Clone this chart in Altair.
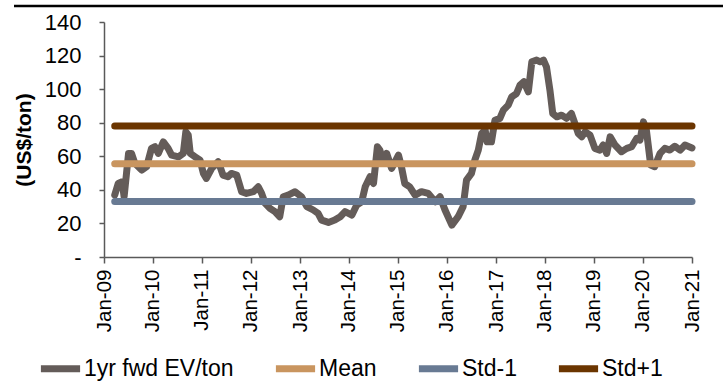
import altair as alt
import pandas as pd

# 1-year forward EV/ton history (decimal year, US$/ton)
years = [
    2009.22, 2009.29, 2009.37, 2009.41, 2009.50, 2009.56, 2009.63, 2009.77, 2009.87, 2009.97,
    2010.04, 2010.11, 2010.21, 2010.31, 2010.38, 2010.52, 2010.62, 2010.67, 2010.72, 2010.76,
    2010.86, 2010.96, 2011.03, 2011.09, 2011.20, 2011.33, 2011.37, 2011.43, 2011.53, 2011.60,
    2011.71, 2011.81, 2011.91, 2012.05, 2012.15, 2012.22, 2012.29, 2012.39, 2012.49, 2012.59,
    2012.66, 2012.76, 2012.90, 2013.03, 2013.14, 2013.27, 2013.37, 2013.44, 2013.58, 2013.71,
    2013.82, 2013.92, 2014.06, 2014.16, 2014.26, 2014.33, 2014.43, 2014.50, 2014.58, 2014.63,
    2014.70, 2014.77, 2014.87, 2015.01, 2015.07, 2015.14, 2015.24, 2015.35, 2015.48, 2015.62,
    2015.76, 2015.86, 2015.96, 2016.10, 2016.23, 2016.33, 2016.40, 2016.50, 2016.57, 2016.64,
    2016.71, 2016.78, 2016.82, 2016.91, 2016.98, 2017.08, 2017.15, 2017.25, 2017.32, 2017.42,
    2017.49, 2017.57, 2017.66, 2017.73, 2017.83, 2017.90, 2017.97, 2018.03, 2018.10, 2018.16,
    2018.24, 2018.34, 2018.44, 2018.54, 2018.61, 2018.68, 2018.75, 2018.82, 2018.92, 2019.02,
    2019.12, 2019.19, 2019.26, 2019.33, 2019.43, 2019.56, 2019.67, 2019.77, 2019.87, 2019.94,
    2020.01, 2020.07, 2020.16, 2020.24, 2020.35, 2020.45, 2020.55, 2020.65, 2020.76, 2020.86,
    2021.00,
]
ev_ton = [
    36.9, 43.8, 44.8, 35.9, 61.7, 61.7, 55.8, 51.8, 53.8, 64.7,
    65.7, 61.7, 68.6, 64.7, 60.7, 59.7, 61.7, 74.6, 72.6, 61.7,
    59.7, 57.7, 49.8, 46.8, 52.8, 56.7, 53.8, 48.8, 47.8, 49.8,
    48.8, 38.9, 37.9, 38.9, 41.8, 37.9, 32.0, 29.0, 27.0, 24.0,
    35.9, 36.9, 38.9, 35.9, 30.0, 28.0, 26.0, 22.0, 20.6, 22.0,
    24.0, 27.0, 25.0, 31.0, 32.9, 41.8, 47.8, 43.8, 65.7, 63.7,
    56.7, 61.7, 52.8, 60.7, 53.8, 43.8, 41.8, 36.9, 38.9, 37.9,
    32.9, 35.9, 28.0, 19.0, 24.0, 30.0, 45.8, 49.8, 57.7, 63.7,
    73.6, 75.6, 68.6, 68.6, 81.5, 82.6, 87.5, 90.5, 95.4, 97.4,
    102.4, 104.4, 98.4, 116.3, 117.3, 116.3, 117.3, 113.3, 99.4, 85.5,
    83.5, 84.5, 82.6, 85.5, 79.6, 73.6, 71.6, 74.6, 72.6, 64.7,
    63.7, 66.7, 61.7, 71.6, 66.7, 62.7, 64.7, 65.7, 70.6, 69.6,
    80.5, 75.6, 54.8, 53.8, 61.7, 64.7, 63.7, 66.0, 63.7, 66.7,
    65.0,
]

# Reference bands: mean and +/- one standard deviation
band_names = ["Mean", "Std-1", "Std+1"]
band_values = [55.5, 33.0, 78.0]
band_span = [2009.22, 2021.00]

series_names = ["1yr fwd EV/ton", "Mean", "Std-1", "Std+1"]
series_colors = ["#645c59", "#c9955f", "#687a93", "#6b3500"]

y_ticks = [0, 20, 40, 60, 80, 100, 120, 140]
x_tick_years = list(range(2009, 2022))


def to_date(y):
    base = pd.Timestamp(year=int(y), month=1, day=1)
    return base + pd.Timedelta(days=round((y - int(y)) * 365.25))


ev_df = pd.DataFrame({
    "date": [to_date(y) for y in years],
    "value": ev_ton,
    "series": series_names[0],
})

band_rows = []
for name, val in zip(band_names, band_values):
    for y in band_span:
        band_rows.append({"date": to_date(y), "value": val, "series": name})
band_df = pd.DataFrame(band_rows)

color = alt.Color(
    "series:N",
    scale=alt.Scale(domain=series_names, range=series_colors),
    sort=series_names,
    legend=alt.Legend(
        title=None,
        orient="none",
        legendX=-67,
        legendY=323,
        direction="horizontal",
        columns=4,
        symbolType="stroke",
        symbolSize=1536,
        symbolStrokeWidth=7,
        labelFontSize=23,
        labelFont="Liberation Sans",
        labelColor="#000000",
        labelOffset=0,
        columnPadding=27,
        symbolOpacity=1,
    ),
)

x_enc = alt.X(
    "date:T",
    scale=alt.Scale(domain=[alt.DateTime(year=2009, month=1, date=1),
                            alt.DateTime(year=2021, month=1, date=1)]),
    axis=alt.Axis(
        values=[alt.DateTime(year=y, month=1, date=1) for y in x_tick_years],
        format="%b-%y",
        labelAngle=270,
        labelFontSize=20.5,
        labelPadding=6,
        labelOverlap=False,
        tickSize=6,
        grid=False,
        title=None,
    ),
)

y_enc = alt.Y(
    "value:Q",
    scale=alt.Scale(domain=[0, 140], nice=False),
    axis=alt.Axis(
        values=y_ticks,
        tickCount=8,
        labelExpr="datum.value == 0 ? '-\u00a0\u00a0\u00a0' : datum.label",
        labelFontSize=22,
        labelPadding=18,
        labelOverlap=False,
        labelBound=False,
        tickSize=5,
        grid=False,
        title="(US$/ton)",
        titleFontSize=21,
        titleFontWeight="bold",
        titlePadding=10,
    ),
)

ev_line = alt.Chart(ev_df).mark_line(
    strokeWidth=7, strokeCap="round", strokeJoin="round"
).encode(x=x_enc, y=y_enc, color=color)

band_lines = alt.Chart(band_df).mark_line(
    strokeWidth=7, strokeCap="round"
).encode(x=x_enc, y=y_enc, color=color, detail="series:N")

# Heavy divider line across the top of the figure
top_rule = alt.Chart(pd.DataFrame({"k": [0]})).mark_rule(
    color="#000000", strokeWidth=2.5
).encode(x=alt.value(-90), x2=alt.value(619), y=alt.value(-16))

chart = alt.layer(ev_line, band_lines, top_rule).properties(
    width=588,
    height=235,
    padding={"left": 104, "top": 22, "right": 31, "bottom": 126},
    autosize=alt.AutoSizeParams(type="none"),
    background="#ffffff",
).configure_view(
    stroke=None
).configure_axis(
    labelFont="Liberation Sans",
    titleFont="Liberation Sans",
    labelColor="#000000",
    titleColor="#000000",
    domainColor="#595959",
    tickColor="#595959",
    domainWidth=1.5,
    tickWidth=1.5,
    labelOverlap=False,
)

chart.save("out.html", embed_options={"renderer": "svg", "actions": False})
